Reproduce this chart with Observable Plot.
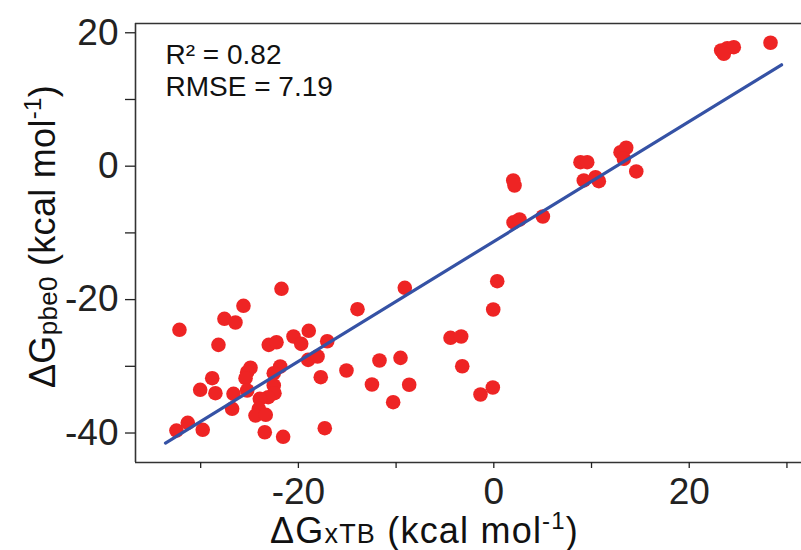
<!DOCTYPE html>
<html>
<head>
<meta charset="utf-8">
<script src="https://cdn.jsdelivr.net/npm/d3@7"></script>
<script src="https://cdn.jsdelivr.net/npm/@observablehq/plot@0.6"></script>
<style>
  html, body { margin: 0; padding: 0; background: white; }
</style>
</head>
<body>
<div id="chart"></div>
<script>
// ΔG_xTB (x) and ΔG_pbe0 (y), kcal/mol
const xtb = [23.27, 23.89, 24.56, 23.54, 28.32, 1.99, 2.12, 2.02, 2.63, 5.02, 8.87, 9.56, 9.21, 10.41, 10.75, 12.97, 13.55, 13.31, 14.58, 0.35, -0.06, -4.43, -3.34, -3.23, -1.36, -0.10, -9.11, -9.55, -8.66, -10.30, -11.70, -12.47, -15.08, -13.95, -17.30, -21.73, -25.62, -27.57, -26.44, -32.17, -28.18, -23.03, -22.24, -20.50, -19.71, -18.94, -17.05, -24.90, -25.24, -25.41, -21.86, -22.52, -19.00, -18.04, -17.71, -28.82, -30.05, -28.49, -26.64, -25.24, -22.52, -22.45, -23.09, -23.95, -26.78, -24.05, -24.39, -23.34, -31.32, -32.48, -29.79, -23.44, -21.56];
const pbe0 = [17.35, 17.69, 17.84, 16.85, 18.50, -2.14, -2.89, -8.43, -7.99, -7.54, 0.60, 0.60, -2.14, -1.65, -2.25, 2.10, 2.76, 1.11, -0.79, -17.24, -21.48, -25.73, -25.53, -29.99, -34.23, -33.18, -18.23, -28.73, -32.77, -35.38, -29.13, -32.73, -30.63, -21.44, -39.28, -18.38, -20.93, -22.88, -23.43, -24.53, -26.78, -26.78, -26.39, -25.53, -26.63, -24.68, -26.24, -30.22, -30.88, -31.78, -30.03, -31.03, -29.03, -28.53, -31.63, -31.78, -33.52, -34.03, -34.12, -33.63, -32.88, -34.03, -34.63, -34.87, -36.37, -36.37, -37.38, -37.27, -38.47, -39.63, -39.52, -39.88, -40.57];

// regression line endpoints
const fitX = [-33.6, 29.45];
const fitY = [-41.5, 15.2];

const xTicks = [-30, -20, -10, 0, 10, 20, 30];
const yTicks = [-40, -30, -20, -10, 0, 10, 20];
const xTickLabels = [-20, 0, 20];
const yTickLabels = [-40, -20, 0, 20];

const stats = ["R² = 0.82", "RMSE = 7.19"];

const xDomain = [-36.67, 31.49];
const yDomain = [-44.42, 21.39];

const points = xtb.map((x, i) => ({x, y: pbe0[i]}));
const fit = fitX.map((x, i) => ({x, y: fitY[i]}));

const font = "'Liberation Sans', Arial, Helvetica, sans-serif";
const axisColor = "#222";

const chart = Plot.plot({
  width: 801,
  height: 550,
  marginLeft: 135,
  marginRight: 0,
  marginTop: 23,
  marginBottom: 88,
  style: {fontFamily: font, background: "white", color: "#111", overflow: "visible"},
  x: {domain: xDomain},
  y: {domain: yDomain},
  marks: [
    Plot.ruleY([yDomain[1]], {stroke: "#333", strokeWidth: 1.6}),
    Plot.ruleY([yDomain[0]], {stroke: "#333", strokeWidth: 1.6}),
    Plot.ruleX([xDomain[0]], {stroke: "#333", strokeWidth: 1.6}),
    Plot.axisX({
      ticks: xTicks, tickSize: 6, tickPadding: 9, fontSize: 37,
      tickFormat: d => xTickLabels.includes(d) ? `${d}` : "",
      label: null, color: axisColor, strokeWidth: 1.3
    }),
    Plot.axisY({
      ticks: yTicks, tickSize: 10, tickPadding: 7, fontSize: 37,
      tickFormat: d => yTickLabels.includes(d) ? `${d}` : "",
      label: null, color: axisColor, strokeWidth: 1.3
    }),
    Plot.dot(points, {x: "x", y: "y", r: 7.3, fill: "#EE2424", stroke: "none"}),
    Plot.line(fit, {x: "x", y: "y", stroke: "#3552A5", strokeWidth: 3.2}),
    Plot.text([stats[0]], {frameAnchor: "top-left", text: d => d, dx: 30, dy: 40, lineAnchor: "bottom", textAnchor: "start", fontSize: 28, fill: "#111"}),
    Plot.text([stats[1]], {frameAnchor: "top-left", text: d => d, dx: 30, dy: 72, lineAnchor: "bottom", textAnchor: "start", fontSize: 28, fill: "#111"})
  ]
});

document.getElementById("chart").appendChild(chart);

// Axis titles with subscripts / superscripts
const svg = d3.select(chart);
const xl = svg.append("text")
  .attr("x", 270).attr("y", 543)
  .attr("text-anchor", "start")
  .attr("font-size", 36).attr("fill", "#111")
  .attr("letter-spacing", 1.2)
  .attr("font-family", font);
xl.append("tspan").text("ΔG");
xl.append("tspan").attr("font-size", 27).text("xTB");
xl.append("tspan").text(" (kcal mol");
xl.append("tspan").attr("font-size", 24).attr("dy", -14).text("-1");
xl.append("tspan").attr("dy", 14).text(")");

const yl = svg.append("text")
  .attr("transform", "translate(55,388) rotate(-90)")
  .attr("text-anchor", "start")
  .attr("font-size", 36).attr("fill", "#111")
  .attr("letter-spacing", 0.3)
  .attr("font-family", font);
yl.append("tspan").text("ΔG");
yl.append("tspan").attr("font-size", 26).attr("dy", 2).text("pbe0");
yl.append("tspan").attr("dy", -2).text(" (kcal mol");
yl.append("tspan").attr("font-size", 24).attr("dy", -14).text("-1");
yl.append("tspan").attr("dy", 14).text(")");
</script>
</body>
</html>
